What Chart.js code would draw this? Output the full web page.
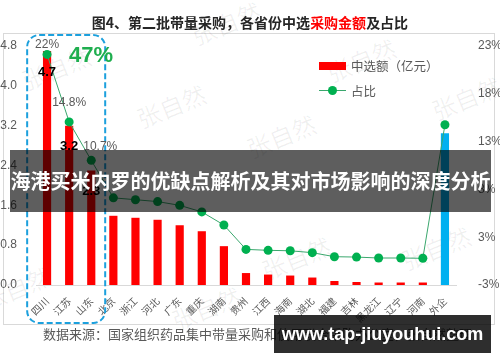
<!DOCTYPE html>
<html>
<head>
<meta charset="utf-8">
<script src="https://cdn.jsdelivr.net/npm/chart.js@4/dist/chart.umd.min.js"></script>
<style>
  html, body { margin:0; padding:0; background:#fff; }
  #wrap { position:relative; width:500px; height:362px; overflow:hidden; background:#fff; font-family:"Noto Sans CJK SC", sans-serif; }
  #frame { position:absolute; left:3px; top:33px; width:492px; height:292px; border:1px solid #d9d9d9; box-sizing:border-box; }
  canvas { position:absolute; left:0; top:0; }
  .abs { position:absolute; white-space:nowrap; }
  .wm { position:absolute; color:rgba(0,0,0,0.06); font-size:24px; transform:rotate(-22deg); white-space:nowrap; }
</style>
</head>
<body>
<div id="wrap">
  <div id="frame"></div>
  <div class="wm" style="left:20px;top:50px;">张自然</div>
  <div class="wm" style="left:135px;top:88px;">张自然</div>
  <div class="wm" style="left:245px;top:118px;">张自然</div>
  <div class="wm" style="left:325px;top:42px;">张自然</div>
  <div class="wm" style="left:430px;top:80px;">张自然</div>
  <div class="wm" style="left:190px;top:5px;">张自然</div>
  <div class="wm" style="left:260px;top:240px;">张自然</div>
  <div class="wm" style="left:400px;top:230px;">张自然</div>
  <div class="wm" style="left:-20px;top:270px;">张自然</div>
  <div class="wm" style="left:170px;top:290px;">张自然</div>
  <canvas id="c" width="500" height="362"></canvas>
  <div class="abs" style="left:0;top:14px;width:500px;text-align:center;font-size:14px;font-weight:bold;line-height:17px;color:#262626;">图4、第二批带量采购，各省份中选<span style="color:#ff0000">采购金额</span>及占比</div>
  <div class="abs" style="left:69px;top:42px;font-family:'Liberation Sans',sans-serif;font-size:22px;font-weight:bold;color:#1fae4f;line-height:26px;">47%</div>
  <div class="abs" style="left:319px;top:62px;width:27px;height:8px;background:#ff0000;"></div>
  <div class="abs" style="left:351px;top:58px;font-size:12.5px;line-height:16px;color:#595959;">中选额（亿元）</div>
  <div class="abs" style="left:319px;top:90px;width:27px;height:1px;background:#3aa76d;"></div>
  <div class="abs" style="left:328px;top:86px;width:9px;height:9px;border-radius:50%;background:#00b050;"></div>
  <div class="abs" style="left:351px;top:83px;font-size:12.5px;line-height:16px;color:#595959;">占比</div>
  <div class="abs" style="left:43px;top:325px;font-size:13px;line-height:17px;color:#595959;">数据来源：国家组织药品集中带量采购和使用联合采购办公室，张自然整理</div>
  <div class="abs" style="left:10px;top:150px;width:481px;height:62px;background:rgba(0,0,0,0.63);"></div>
  <div class="abs" style="left:10px;top:150px;width:481px;height:62px;line-height:62px;text-align:center;color:#fff;font-size:20px;font-weight:bold;">海港买米内罗的优缺点解析及其对市场影响的深度分析</div>
  <div class="abs" style="left:274px;top:315px;width:217px;height:38px;background:rgba(0,0,0,0.82);"></div>
  <div class="abs" style="left:274px;top:315px;width:217px;height:38px;line-height:38px;text-align:center;color:#fff;font-family:'Liberation Sans',sans-serif;font-size:18px;font-weight:bold;">www.tap-jiuyouhui.com</div>
</div>
<script>
const categories = ['四川','江苏','山东','北京','浙江','河北','广东','重庆','湖南','贵州','江西','海南','湖北','福建','吉林','黑龙江','辽宁','河南','外企'];
const amounts = [4.7, 3.2, 2.3, 1.39, 1.35, 1.31, 1.2, 1.08, 0.78, 0.24, 0.21, 0.19, 0.15, 0.08, 0.06, 0.05, 0.05, 0.05, 3.05];
const shares = [22, 14.8, 10.7, 6.7, 6.5, 6.3, 5.9, 5.2, 3.8, 1.2, 1.1, 1.05, 0.85, 0.42, 0.38, 0.28, 0.28, 0.25, 14.5];
const leftAxis = { min: 0, max: 4.8, step: 0.8 };
const rightAxis = { min: -2.6, max: 22.9, step: 5.1 };
const highlightCategory = '外企';
const labeledCount = 3;

const barColors = categories.map(c => c === highlightCategory ? '#00b0f0' : '#ff0000');
const fmtShare = v => (Number.isInteger(v) ? v : v.toFixed(1)) + '%';

const overlay = {
  id: 'overlay',
  afterDatasetsDraw(chart) {
    const ctx = chart.ctx;
    const bars = chart.getDatasetMeta(1).data;
    const pts = chart.getDatasetMeta(0).data;
    const xs = chart.scales.x;
    const w = xs.getPixelForValue(1) - xs.getPixelForValue(0);
    const left = xs.getPixelForValue(0) - 0.9 * w;
    const right = xs.getPixelForValue(labeledCount - 1) + 0.63 * w;
    ctx.save();
    ctx.setLineDash([6, 3]);
    ctx.lineWidth = 2;
    ctx.strokeStyle = '#1ca0dd';
    ctx.beginPath();
    ctx.roundRect(left, 35, right - left, 288, 12);
    ctx.stroke();
    ctx.setLineDash([]);
    ctx.textAlign = 'center';
    ctx.textBaseline = 'middle';
    const shareOffsets = [[0, -10], [0, -19], [9, -14]];
    for (let i = 0; i < labeledCount; i++) {
      ctx.font = 'bold 13px "Liberation Sans"';
      ctx.fillStyle = '#000';
      ctx.fillText(amounts[i].toFixed(1), bars[i].x, bars[i].y + 21);
      ctx.font = '12px "Liberation Sans"';
      ctx.fillStyle = '#595959';
      ctx.fillText(fmtShare(shares[i]), pts[i].x + shareOffsets[i][0], pts[i].y + shareOffsets[i][1]);
    }
    ctx.restore();
  }
};

new Chart(document.getElementById('c'), {
  data: {
    labels: categories,
    datasets: [
      {
        type: 'line', label: '占比', data: shares, yAxisID: 'y1', order: 1,
        borderColor: '#3aa76d', borderWidth: 1, tension: 0,
        pointRadius: 4.5, pointBackgroundColor: '#00b050', pointBorderWidth: 0
      },
      {
        type: 'bar', label: '中选额（亿元）', data: amounts, yAxisID: 'y', order: 2,
        backgroundColor: barColors, categoryPercentage: 1, barPercentage: 0.37
      }
    ]
  },
  options: {
    responsive: false, animation: false, devicePixelRatio: 1,
    layout: { padding: { top: 46, left: 0, right: 0, bottom: 0 } },
    plugins: { legend: { display: false }, tooltip: { enabled: false } },
    scales: {
      x: {
        offset: true,
        grid: { display: false },
        border: { display: true, color: '#d9d9d9' },
        ticks: { color: '#595959', font: { family: 'Noto Sans CJK SC', size: 10 }, minRotation: 45, maxRotation: 45, padding: 2, autoSkip: false },
        afterFit(s) { s.height = 77; }
      },
      y: {
        position: 'left', min: leftAxis.min, max: leftAxis.max,
        grid: { display: false }, border: { display: false },
        ticks: { stepSize: leftAxis.step, color: '#595959', font: { family: 'Liberation Sans', size: 12 }, padding: 11, callback: v => Number(v).toFixed(1) },
        afterFit(s) { s.width = 36; }
      },
      y1: {
        position: 'right', min: rightAxis.min, max: rightAxis.max,
        grid: { display: false }, border: { display: false },
        ticks: { stepSize: rightAxis.step, color: '#595959', font: { family: 'Liberation Sans', size: 12 }, padding: 14, callback: v => Math.round(v) + '%' },
        afterFit(s) { s.width = 44; }
      }
    }
  },
  plugins: [overlay]
});
</script>
</body>
</html>
